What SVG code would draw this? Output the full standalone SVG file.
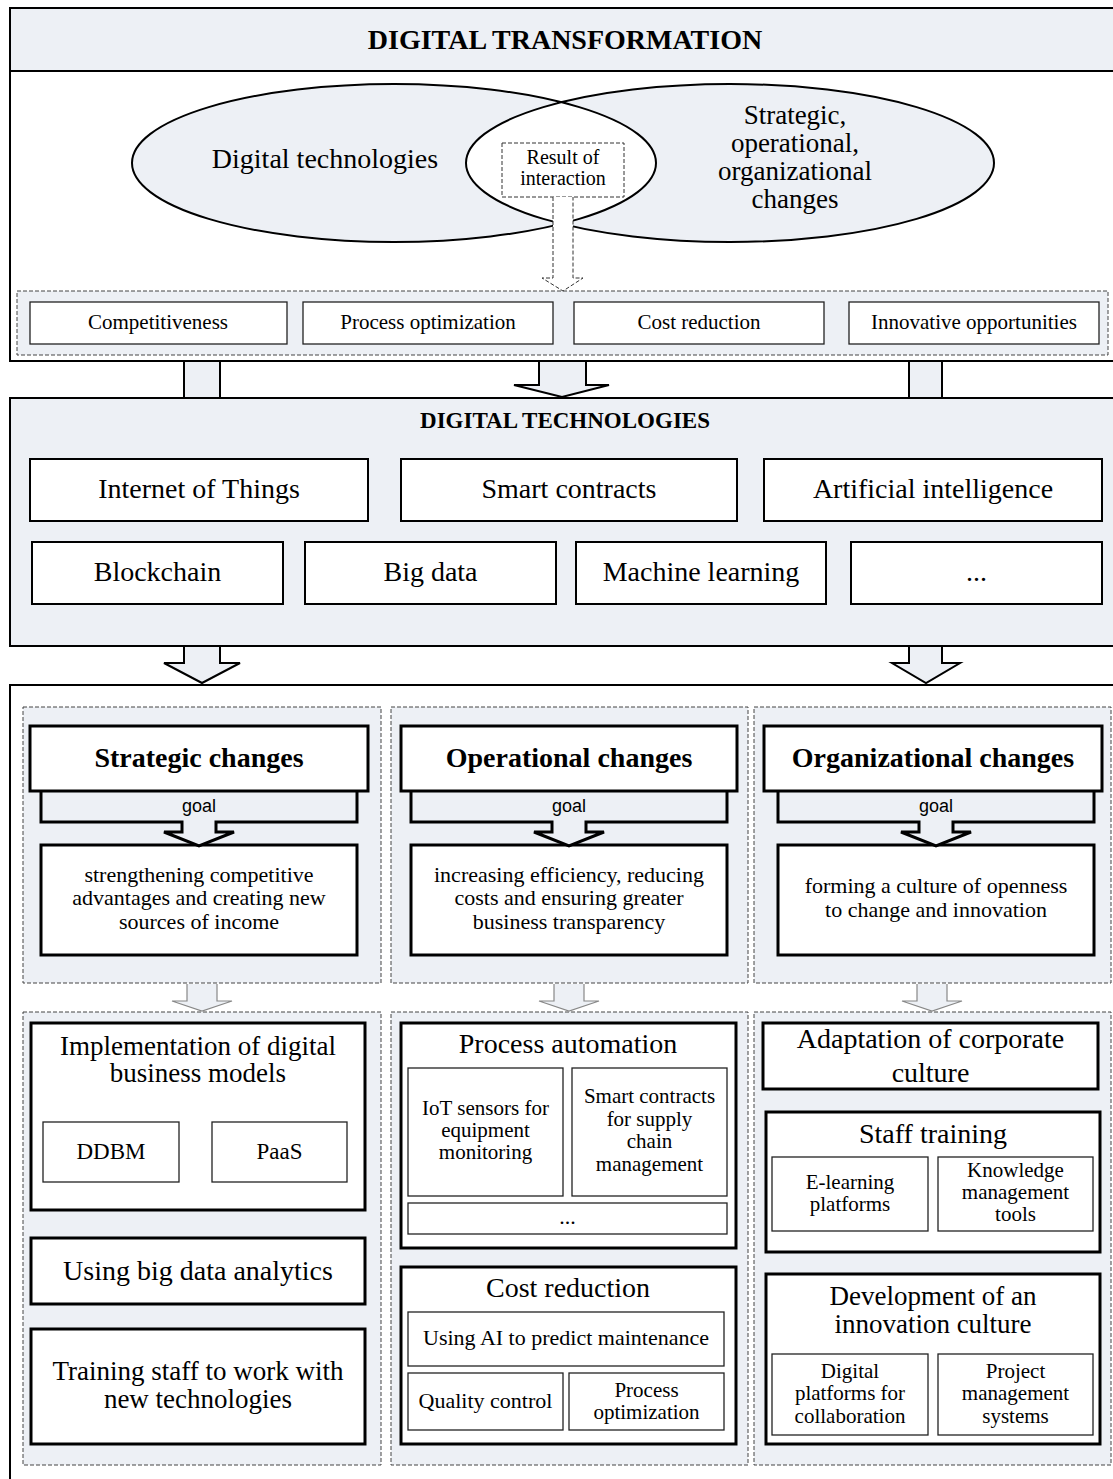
<svg xmlns="http://www.w3.org/2000/svg" width="1113" height="1479" viewBox="0 0 1113 1479">
<style>
.t{font-family:"Liberation Serif","Times New Roman",serif;text-anchor:middle;fill:#000}
.s28{font-size:28px}.s27{font-size:27px}.s23{font-size:23px}.s22{font-size:22px}.s21{font-size:21px}.s20{font-size:20px}
.b{font-weight:bold}
.goal{font-family:"Liberation Sans",Arial,sans-serif;font-size:18px;text-anchor:middle;fill:#000}
.frame{stroke:#000;stroke-width:2}
.light{fill:#EDF0F5}
.white{fill:#fff}
.k2{fill:#fff;stroke:#000;stroke-width:2}
.k3{fill:#fff;stroke:#000;stroke-width:3}
.thin{fill:#fff;stroke:#222;stroke-width:1.3}
.dash{fill:#EDF0F5;stroke:#444;stroke-width:1;stroke-dasharray:4 2}
.conn{fill:#EDF0F5;stroke:#000;stroke-width:2;stroke-linejoin:miter}
.small{fill:#EDF0F5;stroke:#888;stroke-width:1.2}
.gshape{fill:#EDF0F5;stroke:#000;stroke-width:3;stroke-linejoin:miter}
</style>

<!-- TOP: DIGITAL TRANSFORMATION -->
<g id="digital-transformation">
<rect x="10" y="8" width="1110" height="353" class="white frame"/>
<rect x="10" y="8" width="1110" height="63" class="light frame"/>
<text x="565" y="49" class="t s28 b">DIGITAL TRANSFORMATION</text>
</g>

<g id="ellipses">
<path d="M132,163 a262,79 0 1,0 524,0 a262,79 0 1,0 -524,0 Z M466,163 a264,79 0 1,0 528,0 a264,79 0 1,0 -528,0 Z" fill="#EDF0F5" fill-rule="evenodd" stroke="#000" stroke-width="2"/>
<text x="325" y="168" class="t s28">Digital technologies</text>
<text class="t s27"><tspan x="795" y="124">Strategic,</tspan><tspan x="795" y="152">operational,</tspan><tspan x="795" y="180">organizational</tspan><tspan x="795" y="208">changes</tspan></text>
</g>

<g id="result-of-interaction">
<rect x="502" y="143" width="122" height="54" fill="#fff" stroke="#333" stroke-width="1" stroke-dasharray="4 2"/>
<text class="t s20"><tspan x="563" y="164">Result of</tspan><tspan x="563" y="185">interaction</tspan></text>
</g>

<g id="results-container">
<rect x="17" y="291" width="1091" height="64" class="dash"/>
</g>
<g id="competitiveness"><rect x="30" y="302" width="257" height="42" class="thin"/><text x="158" y="329" class="t s21">Competitiveness</text></g>
<g id="process-optimization-top"><rect x="303" y="302" width="250" height="42" class="thin"/><text x="428" y="329" class="t s21">Process optimization</text></g>
<g id="cost-reduction-top"><rect x="574" y="302" width="250" height="42" class="thin"/><text x="699" y="329" class="t s21">Cost reduction</text></g>
<g id="innovative-opportunities"><rect x="849" y="302" width="250" height="42" class="thin"/><text x="974" y="329" class="t s21">Innovative opportunities</text></g>

<!-- DIGITAL TECHNOLOGIES -->
<g id="digital-technologies">
<rect x="10" y="398" width="1110" height="248" class="light frame"/>
<text x="565" y="428" class="t s23 b">DIGITAL TECHNOLOGIES</text>
</g>
<g id="iot"><rect x="30" y="459" width="338" height="62" class="k2"/><text x="199" y="498" class="t s28">Internet of Things</text></g>
<g id="smart-contracts"><rect x="401" y="459" width="336" height="62" class="k2"/><text x="569" y="498" class="t s28">Smart contracts</text></g>
<g id="ai"><rect x="764" y="459" width="338" height="62" class="k2"/><text x="933" y="498" class="t s28">Artificial intelligence</text></g>
<g id="blockchain"><rect x="32" y="542" width="251" height="62" class="k2"/><text x="157.5" y="581" class="t s28">Blockchain</text></g>
<g id="big-data"><rect x="305" y="542" width="251" height="62" class="k2"/><text x="430.5" y="581" class="t s28">Big data</text></g>
<g id="machine-learning"><rect x="576" y="542" width="250" height="62" class="k2"/><text x="701" y="581" class="t s28">Machine learning</text></g>
<g id="more-tech"><rect x="851" y="542" width="251" height="62" class="k2"/><text x="976.5" y="581" class="t s28">...</text></g>

<!-- CHANGES -->
<g id="changes-frame"><rect x="10" y="685" width="1110" height="810" class="white frame"/></g>

<rect x="23" y="707" width="358" height="276" class="dash"/>
<rect x="391" y="707" width="357" height="276" class="dash"/>
<rect x="754" y="707" width="357" height="276" class="dash"/>
<rect x="23" y="1012" width="358" height="453" class="dash"/>
<rect x="391" y="1012" width="357" height="453" class="dash"/>
<rect x="754" y="1012" width="357" height="453" class="dash"/>

<g id="strategic-goal"><rect x="41" y="845" width="316" height="110" class="k3"/>
<text class="t s22"><tspan x="199" y="882">strengthening competitive</tspan><tspan x="199" y="905">advantages and creating new</tspan><tspan x="199" y="929">sources of income</tspan></text></g>
<g id="operational-goal"><rect x="411" y="845" width="316" height="110" class="k3"/>
<text class="t s22"><tspan x="569" y="882">increasing efficiency, reducing</tspan><tspan x="569" y="905">costs and ensuring greater</tspan><tspan x="569" y="929">business transparency</tspan></text></g>
<g id="organizational-goal"><rect x="778" y="845" width="316" height="110" class="k3"/>
<text class="t s22"><tspan x="936" y="893">forming a culture of openness</tspan><tspan x="936" y="917">to change and innovation</tspan></text></g>

<g id="connectors">
<path d="M553,197 V278 H542 L563,291 L583,278 H573 V197" fill="#fff" stroke="#333" stroke-width="1" stroke-dasharray="4 2"/>
<rect x="184" y="362" width="36" height="35" class="light"/>
<path d="M184,362 V397 M220,362 V397" stroke="#000" stroke-width="2"/>
<path d="M539,362 V385 H514 L562,397 L609,385 H586 V362" class="conn"/>
<rect x="909" y="362" width="33" height="35" class="light"/>
<path d="M909,362 V397 M942,362 V397" stroke="#000" stroke-width="2"/>
<path d="M184,647 V663 H164 L202,683 L240,663 H220 V647" class="conn"/>
<path d="M909,647 V663 H892 L926,683 L960,663 H942 V647" class="conn"/>
<path d="M187,984 V1001 H172 L202,1011 L232,1001 H217 V984" class="small"/>
<path d="M554,984 V1001 H539 L569,1011 L599,1001 H584 V984" class="small"/>
<path d="M917,984 V1001 H902 L932,1011 L962,1001 H947 V984" class="small"/>
<path d="M41,791 V822 H182 V832 H164 L199,846 L234,832 H216 V822 H357 V791" class="gshape"/>
<path d="M411,791 V822 H552 V832 H534 L569,846 L604,832 H586 V822 H727 V791" class="gshape"/>
<path d="M778,791 V822 H919 V832 H901 L936,846 L971,832 H953 V822 H1094 V791" class="gshape"/>
<text x="199" y="812" class="goal">goal</text>
<text x="569" y="812" class="goal">goal</text>
<text x="936" y="812" class="goal">goal</text>
</g>

<g id="strategic-changes"><rect x="30" y="726" width="338" height="65" class="k3"/><text x="199" y="767" class="t s28 b">Strategic changes</text></g>
<g id="operational-changes"><rect x="401" y="726" width="336" height="65" class="k3"/><text x="569" y="767" class="t s28 b">Operational changes</text></g>
<g id="organizational-changes"><rect x="764" y="726" width="338" height="65" class="k3"/><text x="933" y="767" class="t s28 b">Organizational changes</text></g>

<!-- Strategic column -->
<g id="digital-business-models"><rect x="31" y="1023" width="334" height="187" class="k3"/>
<text class="t s27"><tspan x="198" y="1055">Implementation of digital</tspan><tspan x="198" y="1082">business models</tspan></text></g>
<g id="ddbm"><rect x="43" y="1122" width="136" height="60" class="thin"/><text x="111" y="1159" class="t s23">DDBM</text></g>
<g id="paas"><rect x="212" y="1122" width="135" height="60" class="thin"/><text x="279.5" y="1159" class="t s23">PaaS</text></g>
<g id="big-data-analytics"><rect x="31" y="1238" width="334" height="66" class="k3"/><text x="198" y="1280" class="t s28">Using big data analytics</text></g>
<g id="training-staff"><rect x="31" y="1329" width="334" height="115" class="k3"/>
<text class="t s27"><tspan x="198" y="1380">Training staff to work with</tspan><tspan x="198" y="1408">new technologies</tspan></text></g>

<!-- Operational column -->
<g id="process-automation"><rect x="401" y="1023" width="335" height="225" class="k3"/><text x="568" y="1053" class="t s28">Process automation</text></g>
<g id="iot-sensors"><rect x="408" y="1068" width="155" height="128" class="thin"/>
<text class="t s21"><tspan x="485.5" y="1115">IoT sensors for</tspan><tspan x="485.5" y="1137">equipment</tspan><tspan x="485.5" y="1159">monitoring</tspan></text></g>
<g id="smart-contracts-supply"><rect x="572" y="1068" width="155" height="128" class="thin"/>
<text class="t s21"><tspan x="649.5" y="1103">Smart contracts</tspan><tspan x="649.5" y="1126">for supply</tspan><tspan x="649.5" y="1148">chain</tspan><tspan x="649.5" y="1171">management</tspan></text></g>
<g id="more-automation"><rect x="408" y="1203" width="319" height="31" class="thin"/><text x="567.5" y="1224" class="t s22">...</text></g>
<g id="cost-reduction"><rect x="401" y="1267" width="335" height="177" class="k3"/><text x="568" y="1297" class="t s28">Cost reduction</text></g>
<g id="ai-maintenance"><rect x="408" y="1312" width="316" height="54" class="thin"/><text x="566" y="1345" class="t s22">Using AI to predict maintenance</text></g>
<g id="quality-control"><rect x="408" y="1373" width="155" height="57" class="thin"/><text x="485.5" y="1408" class="t s22">Quality control</text></g>
<g id="process-optimization"><rect x="569" y="1373" width="155" height="57" class="thin"/>
<text class="t s21"><tspan x="646.5" y="1397">Process</tspan><tspan x="646.5" y="1419">optimization</tspan></text></g>

<!-- Organizational column -->
<g id="corporate-culture"><rect x="763" y="1023" width="335" height="66" class="k3"/>
<text class="t s28"><tspan x="930.5" y="1048">Adaptation of corporate</tspan><tspan x="930.5" y="1082">culture</tspan></text></g>
<g id="staff-training"><rect x="766" y="1112" width="334" height="140" class="k3"/><text x="933" y="1143" class="t s28">Staff training</text></g>
<g id="e-learning"><rect x="772" y="1157" width="156" height="74" class="thin"/>
<text class="t s21"><tspan x="850" y="1189">E-learning</tspan><tspan x="850" y="1211">platforms</tspan></text></g>
<g id="knowledge-tools"><rect x="938" y="1157" width="155" height="74" class="thin"/>
<text class="t s21"><tspan x="1015.5" y="1177">Knowledge</tspan><tspan x="1015.5" y="1199">management</tspan><tspan x="1015.5" y="1221">tools</tspan></text></g>
<g id="innovation-culture"><rect x="766" y="1274" width="334" height="170" class="k3"/>
<text class="t s27"><tspan x="933" y="1305">Development of an</tspan><tspan x="933" y="1333">innovation culture</tspan></text></g>
<g id="digital-platforms"><rect x="772" y="1354" width="156" height="81" class="thin"/>
<text class="t s21"><tspan x="850" y="1378">Digital</tspan><tspan x="850" y="1400">platforms for</tspan><tspan x="850" y="1423">collaboration</tspan></text></g>
<g id="project-management"><rect x="938" y="1354" width="155" height="81" class="thin"/>
<text class="t s21"><tspan x="1015.5" y="1378">Project</tspan><tspan x="1015.5" y="1400">management</tspan><tspan x="1015.5" y="1423">systems</tspan></text></g>
</svg>
